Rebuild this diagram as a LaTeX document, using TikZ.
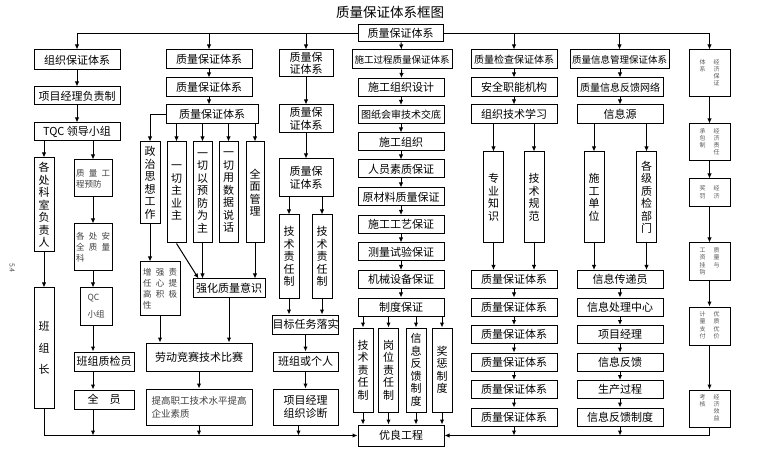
\documentclass[tikz,border=0pt]{standalone}
\usepackage{fontspec}
\setmainfont{Noto Sans CJK SC}
\usetikzlibrary{arrows.meta}

\begin{document}
\begin{tikzpicture}[x=1pt, y=-1pt, line width=1pt, font=\fontsize{11}{12.5}\selectfont,
  box/.style 2 args={draw, fill=white, minimum width=#1pt, minimum height=#2pt, inner sep=0pt, align=center},
  note/.style={font=\fontsize{8.5}{11}\selectfont, text=black!75, align=left},
  ebox/.style={font=\fontsize{6}{7}\selectfont, text=black!65},
  arr/.style={-{Latex[length=5pt,width=4.5pt]}}]

\useasboundingbox (0,0) rectangle (760,454);

\node (title) at (390,12) {\fontsize{13.5}{14}\selectfont 质量保证体系框图};
\node[box={85}{17}] (top) at (400.5,33.5) {质量保证体系};
\coordinate (tl) at (77,33.5);
\coordinate (tr) at (709.5,33.5);
\draw (tl) -- (top.west) (top.east) -- (tr);

\node[font=\fontsize{7}{8}\selectfont, text=black!70, rotate=-90] (pg) at (12,268) {5.4};

% organisation column
\node[box={86}{20}] (org) at (77,60) {组织保证体系};
\node[box={86}{18}] (pm) at (77,96) {项目经理负责制};
\node[box={86}{18}] (tqc) at (77,132) {TQC 领导小组};
\node[box={20}{94}] (ks) at (44,205) {各\\处\\科\\室\\负\\责\\人};
\node[box={20}{120}] (bzz) at (44,348) {班\\[9pt]组\\[9pt]长};
\node[box={38}{37}, note] (yfang) at (93,178.5) {质\enspace 量\enspace 工\\程预防};
\node[box={38}{47}, note] (aq) at (93,247.5) {各\enspace 处\enspace 安\\全\enspace 质\enspace 量\\科};
\node[box={32}{37}, note] (qc) at (96,306.5) {QC\\[6pt]小组};
\node[box={60}{19}] (zjy) at (104,361.5) {班组质检员};
\node[box={60}{19}] (qy) at (104,399.5) {全\quad 员};

\draw[arr] (org |- tl) -- (org);
\draw[arr] (org) -- (pm);
\draw[arr] (pm) -- (tqc);
\draw[arr] (tqc.south -| ks) -- (ks);
\draw[arr] (tqc.south -| yfang) -- (yfang);
\draw[arr] (ks) -- (bzz);
\draw[arr] (yfang) -- (aq);
\draw[arr] (aq.south) -- (aq.south |- qc.north);
\draw[arr] (qc.south -| aq) -- (zjy.north -| aq);
\draw[arr] (zjy.south -| aq) -- (qy.north -| aq);

% second column
\node[box={86}{19}] (c2a) at (209,59.5) {质量保证体系};
\node[box={86}{19}] (c2b) at (209,87.5) {质量保证体系};
\node[box={92}{19}] (c2c) at (212,114.5) {质量保证体系};
\node[box={20}{82}] (zz) at (150,183) {政\\治\\思\\想\\工\\作};
\node[box={19}{101}] (yq) at (176.5,192.5) {一\\切\\主\\业\\主};
\node[box={19}{101}] (yf) at (202.5,192.5) {一\\切\\以\\预\\防\\为\\主};
\node[box={19}{101}] (ys) at (228.5,192.5) {一\\切\\用\\数\\据\\说\\话};
\node[box={18}{101}] (qm) at (255,192.5) {全\\面\\管\\理};
\node[box={40}{53}, note] (zy) at (160,288.5) {增\enspace 强\enspace 责\\任\enspace 心\enspace 提\\高\enspace 积\enspace 极\\性};
\node[box={72}{18}] (qh) at (229,288) {强化质量意识};
\node[box={106}{28}] (ld) at (199,357) {劳动竞赛技术比赛};
\node[box={106}{36}, note, font=\fontsize{9.5}{13}\selectfont] (tg) at (199,407) {提高职工技术水平提高\\企业素质};

\draw[arr] (c2a |- tl) -- (c2a);
\draw[arr] (c2a) -- (c2b);
\draw[arr] (c2b.south) -- (c2b.south |- c2c.north);
\draw[arr] (c2c.west) -| (zz);
\draw[arr] (c2c.south -| yq) -- (yq);
\draw[arr] (c2c.south -| yf) -- (yf);
\draw[arr] (c2c.south -| ys) -- (ys);
\draw[arr] (c2c.south -| qm) -- (qm);
\draw[arr] (zz) -- (zz |- zy.north);
\draw[arr] (yq.south) -- ([xshift=6pt]qh.north west);
\draw[arr] (yf) -- (yf |- qh.north);
\draw[arr] (qm) -- (qm |- qh.north);
\draw[arr] (zy) -- (zy |- ld.north);
\draw[arr] (qh) -- (qh |- ld.north);
\draw[arr] (ld) -- (tg);

% third column
\node[box={54}{27}] (c3a) at (306,63.5) {质量保\\证体系};
\node[box={54}{28}] (c3b) at (306,119) {质量保\\证体系};
\node[box={54}{38}] (c3c) at (306,178) {质量保\\证体系};
\node[box={20}{83}] (js1) at (289,256.5) {技\\术\\责\\任\\制};
\node[box={20}{83}] (js2) at (322,256.5) {技\\术\\责\\任\\制};
\node[box={65}{19}] (mb) at (305.5,324.5) {目标任务落实};
\node[box={65}{19}] (bg) at (305.5,361.5) {班组或个人};
\node[box={65}{36}] (xm) at (305.5,407) {项目经理\\组织诊断};

\draw[arr] (c3a |- tl) -- (c3a);
\draw[arr] (c3a) -- (c3b);
\draw[arr] (c3b) -- (c3c);
\draw[arr] (c3c.south -| js1) -- (js1);
\draw[arr] (c3c.south -| js2) -- (js2);
\draw[arr] (js1) -- (js1 |- mb.north);
\draw[arr] (js2) -- (js2 |- mb.north);
\draw[arr] (mb) -- (bg);
\draw[arr] (bg) -- (xm);

% construction process column
\node[box={100}{19}, font=\fontsize{9.5}{11}\selectfont] (sg) at (402,59.5) {施工过程质量保证体系};
\node[box={86}{18}] (s1) at (401,87.5) {施工组织设计};
\node[box={86}{18}, font=\fontsize{10}{11}\selectfont] (s2) at (401,114.5) {图纸会审技术交底};
\node[box={86}{18}] (s3) at (401,142) {施工组织};
\node[box={86}{18}] (s4) at (401,169) {人员素质保证};
\node[box={86}{18}] (s5) at (401,197) {原材料质量保证};
\node[box={86}{18}] (s6) at (401,224.5) {施工工艺保证};
\node[box={86}{18}] (s7) at (401,252) {测量试验保证};
\node[box={86}{18}] (s8) at (401,279.5) {机械设备保证};
\node[box={86}{18}] (s9) at (401,307) {制度保证};
\node[box={20}{84}] (z1) at (363,370) {技\\术\\责\\任\\制};
\node[box={20}{84}] (z2) at (388.5,370) {岗\\位\\责\\任\\制};
\node[box={20}{84}] (z3) at (416,370) {信\\息\\反\\馈\\制\\度};
\node[box={20}{84}] (z4) at (442,370) {奖\\惩\\制\\度};
\node[box={86}{21}] (you) at (401,435.5) {优良工程};

\draw[arr] (top) -- (sg);
\draw[arr] (sg) -- (s1);
\draw[arr] (s1) -- (s2);
\draw[arr] (s2) -- (s3);
\draw[arr] (s3) -- (s4);
\draw[arr] (s4) -- (s5);
\draw[arr] (s5) -- (s6);
\draw[arr] (s6) -- (s7);
\draw[arr] (s7) -- (s8);
\draw[arr] (s8) -- (s9);
\draw[arr] (s9.south -| z1) -- (z1);
\draw[arr] (s9.south -| z2) -- (z2);
\draw[arr] (s9.south -| z3) -- (z3);
\draw[arr] (s9.south -| z4) -- (z4);
\draw[arr] (z1) -- (z1 |- you.north);
\draw[arr] (z2) -- (z2 |- you.north);
\draw[arr] (z3) -- (z3 |- you.north);
\draw[arr] (z4) -- (z4 |- you.north);

% inspection column
\node[box={86}{19}, font=\fontsize{10}{11}\selectfont] (c5a) at (514,59.5) {质量检查保证体系};
\node[box={86}{19}] (c5b) at (514,87.5) {安全职能机构};
\node[box={86}{19}] (c5c) at (514,114.5) {组织技术学习};
\node[box={20}{91}] (zs) at (493.5,197.5) {专\\业\\知\\识};
\node[box={20}{91}] (jg) at (534,197.5) {技\\术\\规\\范};
\node[box={86}{18}] (q1) at (514,279.5) {质量保证体系};
\node[box={86}{18}] (q2) at (514,307) {质量保证体系};
\node[box={86}{18}] (q3) at (514,334.5) {质量保证体系};
\node[box={86}{18}] (q4) at (514,362) {质量保证体系};
\node[box={86}{18}] (q5) at (514,389.5) {质量保证体系};
\node[box={86}{18}] (q6) at (514,417) {质量保证体系};

\draw[arr] (c5a |- tl) -- (c5a);
\draw[arr] (c5a) -- (c5b);
\draw[arr] (c5b) -- (c5c);
\draw[arr] (c5c.south -| zs) -- (zs);
\draw[arr] (c5c.south -| jg) -- (jg);
\draw[arr] (zs) -- (zs |- q1.north);
\draw[arr] (jg) -- (jg |- q1.north);
\draw[arr] (q1) -- (q2);
\draw[arr] (q2) -- (q3);
\draw[arr] (q3) -- (q4);
\draw[arr] (q4) -- (q5);
\draw[arr] (q5) -- (q6);

% information column
\node[box={99}{19}, font=\fontsize{9.5}{11}\selectfont] (c6a) at (619.5,59.5) {质量信息管理保证体系};
\node[box={86}{19}, font=\fontsize{10}{11}\selectfont] (c6b) at (620,87.5) {质量信息反馈网络};
\node[box={86}{19}] (c6c) at (620,114.5) {信息源};
\node[box={20}{91}] (sd) at (594,197.5) {施\\工\\单\\位};
\node[box={20}{91}] (gj) at (646.5,197.5) {各\\级\\质\\检\\部\\门};
\node[box={86}{18}] (f1) at (620,279.5) {信息传递员};
\node[box={86}{18}] (f2) at (620,307) {信息处理中心};
\node[box={86}{18}] (f3) at (620,334.5) {项目经理};
\node[box={86}{18}] (f4) at (620,362) {信息反馈};
\node[box={86}{18}] (f5) at (620,389.5) {生产过程};
\node[box={86}{18}] (f6) at (620,417) {信息反馈制度};

\draw[arr] (c6a |- tl) -- (c6a);
\draw[arr] (c6a.south -| c6b) -- (c6b);
\draw[arr] (c6b) -- (c6c);
\draw[arr] (c6c.south -| sd) -- (sd);
\draw[arr] (c6c.south -| gj) -- (gj);
\draw[arr] (sd) -- (sd |- f1.north);
\draw[arr] (gj) -- (gj |- f1.north);
\draw[arr] (f1) -- (f2);
\draw[arr] (f2) -- (f3);
\draw[arr] (f3) -- (f4);
\draw[arr] (f4) -- (f5);
\draw[arr] (f5) -- (f6);

% economic column
\node[box={41}{47}, ebox] (e1) at (709.5,73.5) {\begin{tabular}{@{}c@{\hspace{8pt}}c@{}}体&经\\系&济\\&保\\&证\end{tabular}};
\node[box={41}{37}, ebox] (e2) at (709.5,142.5) {\begin{tabular}{@{}c@{\hspace{8pt}}c@{}}承&经\\包&济\\制&责\\&任\end{tabular}};
\node[box={41}{28}, ebox] (e3) at (709.5,193) {\begin{tabular}{@{}c@{\hspace{8pt}}c@{}}奖&经\\罚&济\end{tabular}};
\node[box={41}{38}, ebox] (e4) at (709.5,262) {\begin{tabular}{@{}c@{\hspace{8pt}}c@{}}工&质\\资&量\\挂&与\\钩&\end{tabular}};
\node[box={41}{38}, ebox] (e5) at (709.5,326) {\begin{tabular}{@{}c@{\hspace{8pt}}c@{}}计&优\\量&质\\支&优\\付&价\end{tabular}};
\node[box={41}{37}, ebox] (e6) at (709.5,408.5) {\begin{tabular}{@{}c@{\hspace{8pt}}c@{}}考&经\\核&济\\&效\\&益\end{tabular}};

\draw[arr] (tr) -- (e1);
\draw[arr] (e1) -- (e2);
\draw[arr] (e2) -- (e3);
\draw[arr] (e3) -- (e4);
\draw[arr] (e4) -- (e5);
\draw[arr] (e5) -- (e6);

% collecting lines
\draw[arr] (bzz) -- (bzz |- you) -- (you);
\draw[arr] (qy.south -| aq) -- (aq |- you);
\draw[arr] (tg) -- (tg |- you);
\draw[arr] ([xshift=-7pt]xm.south) -- ([xshift=-7pt]xm.south |- you);
\draw[arr] (e6) -- (e6 |- you) -- (you);
\draw[arr] (q6) -- (q6 |- you);
\draw[arr] (f6) -- (f6 |- you);
\end{tikzpicture}
\end{document}
